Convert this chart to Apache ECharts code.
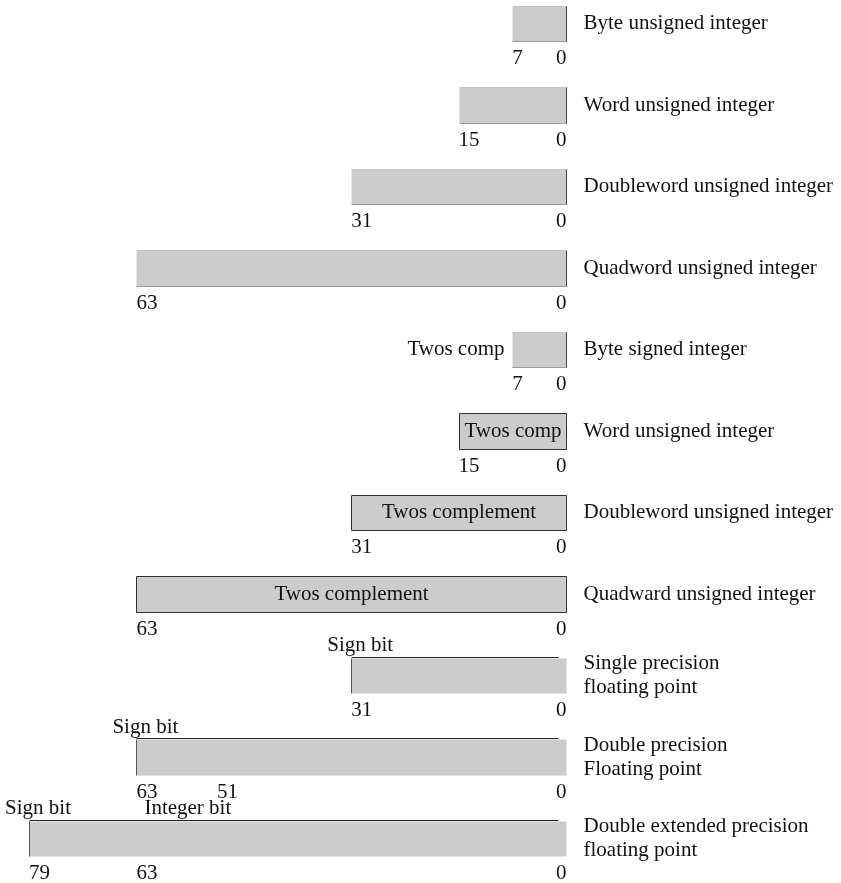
<!DOCTYPE html>
<html>
<head>
<meta charset="UTF-8">
<title>Data types</title>
<script src="https://cdn.jsdelivr.net/npm/echarts@6/dist/echarts.min.js"></script>
<style>
  html, body { margin: 0; padding: 0; background: #fff; }
  #main { width: 841px; height: 883px; }
</style>
</head>
<body>
<div id="main"></div>
<script>
// one row per data type, top to bottom
var rowNames = [
  'Byte unsigned integer',
  'Word unsigned integer',
  'Doubleword unsigned integer',
  'Quadword unsigned integer',
  'Byte signed integer',
  'Word unsigned integer',
  'Doubleword unsigned integer',
  'Quadward unsigned integer',
  'Single precision\nfloating point',
  'Double precision\nFloating point',
  'Double extended precision\nfloating point'
];
var bitWidths = [8, 16, 32, 64, 8, 16, 32, 64, 32, 64, 80];
var barKinds = ['plain', 'plain', 'plain', 'plain', 'plain', 'boxed', 'boxed', 'boxed', 'float', 'float', 'float'];
var innerText = ['', '', '', '', '', 'Twos comp', 'Twos complement', 'Twos complement', '', '', ''];
var leftText = ['', '', '', '', 'Twos comp', '', '', '', '', '', ''];
// bit numbers printed under each bar
var bitLabels = [[7, 0], [15, 0], [31, 0], [63, 0], [7, 0], [15, 0], [31, 0], [63, 0], [31, 0], [63, 51, 0], [79, 63, 0]];
// marks written above the floating point bars
var markRows = [8, 9, 10, 10];
var markBits = [31, 63, 79, 63];
var markText = ['Sign bit', 'Sign bit', 'Sign bit', 'Integer bit'];

var FONT = "'Liberation Serif', 'DejaVu Serif', serif";
var FS = 21;

function txt(x, y, s, align, vAlign) {
  return {
    type: 'text',
    style: {
      x: x, y: y, text: s,
      fill: '#111', font: FS + 'px ' + FONT,
      align: align, verticalAlign: vAlign || 'middle',
      lineHeight: 24
    }
  };
}
function line(x1, y1, x2, y2, color) {
  return {
    type: 'line',
    shape: { x1: x1, y1: y1, x2: x2, y2: y2 },
    style: { stroke: color, lineWidth: 1 }
  };
}

function renderRow(params, api) {
  var i = api.value(0);
  var bits = bitWidths[i];
  var pl = api.coord([bits, i]);
  var pr = api.coord([0, i]);
  var h = api.size([0, 1])[1] * 0.43;
  var x0 = Math.round(pl[0]) + 0.5, x1 = Math.round(pr[0]) + 0.5;
  var y0 = Math.round(pl[1] - h / 2) + 0.5, y1 = Math.round(pl[1] + h / 2) + 0.5;
  var cy = pl[1];
  var kids = [];
  kids.push({
    type: 'rect',
    shape: { x: x0, y: y0, width: x1 - x0, height: y1 - y0 },
    style: { fill: '#cccccc' }
  });
  var kind = barKinds[i];
  if (kind === 'plain') {
    kids.push(line(x0, y0, x1, y0, '#c4c4c4'));
    kids.push(line(x0, y1, x1, y1, '#9a9a9a'));
    kids.push(line(x1, y0, x1, y1, '#444'));
  } else if (kind === 'boxed') {
    kids.push({
      type: 'rect',
      shape: { x: x0, y: y0, width: x1 - x0, height: y1 - y0 },
      style: { fill: 'none', stroke: '#333', lineWidth: 1 }
    });
  } else {
    kids.push(line(x0, y0 - 1, x1 - 8, y0 - 1, '#222'));
    kids.push(line(x0, y0, x0, y1, '#555'));
  }
  if (innerText[i]) {
    kids.push(txt((x0 + x1) / 2, cy, innerText[i], 'center'));
  }
  if (leftText[i]) {
    kids.push(txt(x0 - 8, cy, leftText[i], 'right'));
  }
  // type name on the right
  kids.push(txt(x1 + 17, cy, rowNames[i], 'left'));
  // bit numbers under the bar
  var labs = bitLabels[i];
  for (var k = 0; k < labs.length; k++) {
    var b = labs[k];
    if (b === 0) {
      kids.push(txt(x1, cy + 35, '0', 'right'));
    } else {
      var bx = api.coord([b + 1, i])[0];
      kids.push(txt(bx, cy + 35, String(b), 'left'));
    }
  }
  // sign / integer bit marks
  for (var m = 0; m < markRows.length; m++) {
    if (markRows[m] !== i) continue;
    var mx = api.coord([markBits[m] + 1, i])[0];
    if (markText[m] === 'Sign bit') {
      kids.push(txt(mx + 9, cy - 30, markText[m], 'center'));
    } else {
      kids.push(txt(mx + 8, cy - 30, markText[m], 'left'));
    }
  }
  return { type: 'group', children: kids };
}

var rows = [];
for (var r = 0; r < rowNames.length; r++) rows.push([r]);

var myChart = echarts.init(document.getElementById('main'));
var option = {
  animation: false,
  grid: { left: 29, right: 275, top: 23.5, bottom: 44.5 },
  xAxis: { type: 'value', min: 0, max: 80, inverse: true, show: false },
  yAxis: { type: 'value', min: 0, max: 10, inverse: true, show: false },
  series: [{
    type: 'custom',
    renderItem: renderRow,
    encode: { y: 0 },
    clip: false,
    data: rows
  }]
};
myChart.setOption(option);
</script>
</body>
</html>
